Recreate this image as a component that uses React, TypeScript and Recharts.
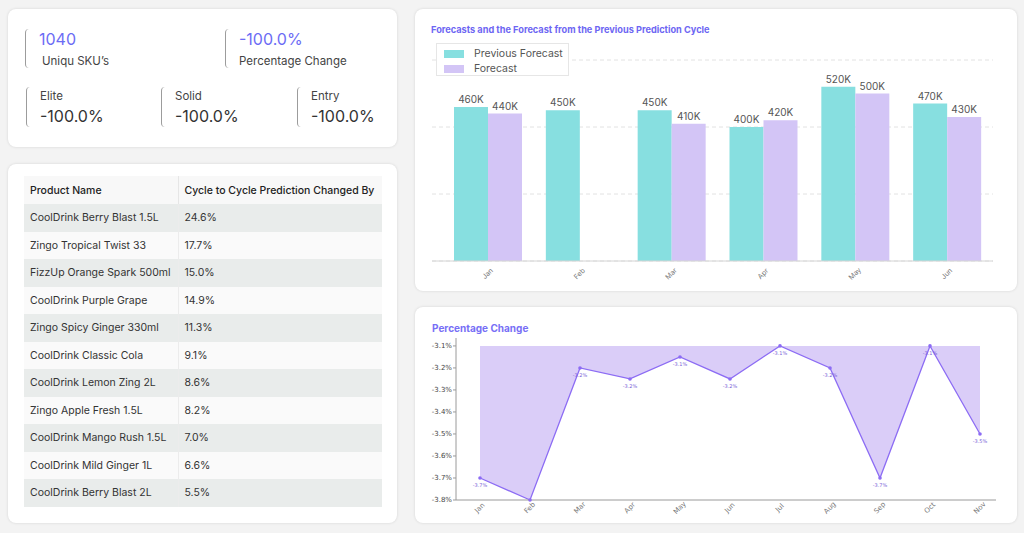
import {
  Area,
  AreaChart,
  Bar,
  BarChart,
  CartesianGrid,
  LabelList,
  Legend,
  XAxis,
  YAxis,
} from 'recharts';

const months = ['Jan', 'Feb', 'Mar', 'Apr', 'May', 'Jun'];
const previousForecast = [460000, 450000, 450000, 400000, 520000, 470000];
const forecast = [440000, null, 410000, 420000, 500000, 430000];

const changeMonths = ['Jan', 'Feb', 'Mar', 'Apr', 'May', 'Jun', 'Jul', 'Aug', 'Sep', 'Oct', 'Nov'];
const changeValues = [-3.7, -3.8, -3.2, -3.25, -3.15, -3.25, -3.1, -3.2, -3.7, -3.1, -3.5];
const changeLabels = ['-3.7%', '', '-3.2%', '-3.2%', '-3.1%', '-3.2%', '-3.1%', '-3.2%', '-3.7%', '-3.1%', '-3.5%'];
const changeTicks = [-3.8, -3.7, -3.6, -3.5, -3.4, -3.3, -3.2, -3.1];

const productNames = [
  'CoolDrink Berry Blast 1.5L',
  'Zingo Tropical Twist 33',
  'FizzUp Orange Spark 500ml',
  'CoolDrink Purple Grape',
  'Zingo Spicy Ginger 330ml',
  'CoolDrink Classic Cola',
  'CoolDrink Lemon Zing 2L',
  'Zingo Apple Fresh 1.5L',
  'CoolDrink Mango Rush 1.5L',
  'CoolDrink Mild Ginger 1L',
  'CoolDrink Berry Blast 2L',
];
const productChanges = ['24.6%', '17.7%', '15.0%', '14.9%', '11.3%', '9.1%', '8.6%', '8.2%', '7.0%', '6.6%', '5.5%'];

const TEAL = '#87dfe0';
const LAVENDER = '#d3c5f6';
const PURPLE = '#8c6cf4';
const TITLE = '#6d66f3';
const FONT = 'Inter, "Open Sans", sans-serif';

const card: React.CSSProperties = {
  position: 'absolute',
  background: '#fff',
  borderRadius: 8,
  boxShadow: '0 0 3px rgba(0,0,0,0.13)',
};

function Kpi({ left, top, height, value, label, valueColor, labelFirst, indent }: any) {
  const valueEl = (
    <div style={{ fontSize: 16, lineHeight: '20px', color: valueColor, whiteSpace: 'nowrap' }}>{value}</div>
  );
  const labelEl = (
    <div
      style={{
        fontSize: 11.5,
        lineHeight: labelFirst ? '18px' : '16px',
        color: '#444',
        marginTop: labelFirst ? 0 : 4,
        marginLeft: indent ? 3 : 0,
        whiteSpace: 'nowrap',
      }}
    >
      {label}
    </div>
  );
  return (
    <div
      style={{
        position: 'absolute',
        left,
        top,
        height,
        paddingLeft: 13,
        borderLeft: '1.5px solid #9c9c9c',
        borderRadius: 4,
        fontFamily: FONT,
      }}
    >
      {labelFirst ? (
        <>
          {labelEl}
          <div style={{ marginTop: 1 }}>{valueEl}</div>
        </>
      ) : (
        <>
          {valueEl}
          {labelEl}
        </>
      )}
    </div>
  );
}

function RotatedTick({ x, y, payload, dy, size, color, family }: any) {
  const ty = y + dy;
  return (
    <text
      x={x}
      y={ty}
      transform={`rotate(-45 ${x} ${ty})`}
      textAnchor="middle"
      dominantBaseline="middle"
      fontSize={size}
      fill={color}
      fontFamily={family}
    >
      {payload.value}
    </text>
  );
}

function BarLegend() {
  const items = [
    { name: 'Previous Forecast', color: TEAL },
    { name: 'Forecast', color: LAVENDER },
  ];
  return (
    <div
      style={{
        width: 133,
        height: 33,
        border: '1px solid #e6e6e6',
        background: '#fff',
        padding: '2px 0 0 7px',
        boxSizing: 'border-box',
        fontFamily: FONT,
      }}
    >
      {items.map((it) => (
        <div key={it.name} style={{ display: 'flex', alignItems: 'center', height: 15, whiteSpace: 'nowrap' }}>
          <span style={{ width: 20, height: 8, background: it.color, display: 'inline-block', flex: 'none' }} />
          <span style={{ marginLeft: 10, fontSize: 10.5, color: '#555' }}>{it.name}</span>
        </div>
      ))}
    </div>
  );
}

function ForecastChart() {
  const data = months.map((m, i) => ({
    month: m,
    previous: previousForecast[i],
    forecast: forecast[i],
  }));
  const fmt = (v: any) => (v == null ? '' : `${Math.round(Number(v) / 1000)}K`);
  return (
    <BarChart
      width={602}
      height={282}
      data={data}
      margin={{ top: 51, right: 24, left: 17, bottom: 0 }}
      barGap={0}
    >
      <CartesianGrid vertical={false} stroke="#e2e2e2" strokeDasharray="4 3" />
      <XAxis
        dataKey="month"
        padding={{ left: 10, right: 0 }}
        height={30}
        tickSize={0}
        tickMargin={0}
        axisLine={{ stroke: '#d4d4d4' }}
        tick={(p: any) => <RotatedTick {...p} dy={13} size={7} color="#777" family={FONT} />}
        interval={0}
      />
      <YAxis hide domain={[0, 600000]} ticks={[0, 200000, 400000, 600000]} />
      <Legend
        layout="vertical"
        align="center"
        verticalAlign="middle"
        content={() => <BarLegend />}
        wrapperStyle={{ left: 21, top: 34, width: 133, height: 33 }}
      />
      <Bar dataKey="previous" name="Previous Forecast" fill={TEAL} barSize={34} isAnimationActive={false}>
        <LabelList dataKey="previous" position="top" offset={4} formatter={fmt} fontSize={10} fill="#555" fontFamily={FONT} />
      </Bar>
      <Bar dataKey="forecast" name="Forecast" fill={LAVENDER} barSize={34} isAnimationActive={false}>
        <LabelList dataKey="forecast" position="top" offset={4} formatter={fmt} fontSize={10} fill="#555" fontFamily={FONT} />
      </Bar>
    </BarChart>
  );
}

function PointLabel({ x, y, value }: any) {
  if (!value) return null;
  return (
    <text x={x} y={y + 9} textAnchor="middle" fontSize={5} fill="#7b5fd8" fontFamily="DejaVu Sans">
      {value}
    </text>
  );
}

function ChangeChart() {
  const data = changeMonths.map((m, i) => ({
    month: m,
    value: changeValues[i],
    label: changeLabels[i],
  }));
  return (
    <AreaChart width={602} height={216} data={data} margin={{ top: 31, right: 21, left: 0, bottom: 0 }}>
      <XAxis
        dataKey="month"
        padding={{ left: 24, right: 16 }}
        height={23}
        tickSize={0}
        tickMargin={0}
        interval={0}
        axisLine={{ stroke: '#9a9a9a' }}
        tick={(p: any) => <RotatedTick {...p} dy={8} size={7} color="#777" family="DejaVu Sans" />}
      />
      <YAxis
        width={41}
        domain={[-3.8, -3.064]}
        ticks={changeTicks}
        tickSize={3}
        tickMargin={1}
        axisLine={{ stroke: '#9a9a9a' }}
        tickLine={{ stroke: '#9a9a9a' }}
        tick={{ fontSize: 7, fill: '#444', fontFamily: 'DejaVu Sans' }}
        tickFormatter={(v) => `${Number(v).toFixed(1)}%`}
      />
      <Area
        type="linear"
        dataKey="value"
        baseValue={-3.1}
        stroke={PURPLE}
        strokeWidth={1.3}
        fill="#dacdf8"
        fillOpacity={1}
        dot={{ r: 1.8, fill: PURPLE, stroke: PURPLE, strokeWidth: 0 }}
        activeDot={false}
        isAnimationActive={false}
      >
        <LabelList dataKey="label" content={(p: any) => <PointLabel {...p} />} />
      </Area>
    </AreaChart>
  );
}

export default function App() {
  return (
    <div
      style={{
        position: 'absolute',
        left: 0,
        top: 0,
        width: 1024,
        height: 533,
        background: '#f3f3f3',
        fontFamily: FONT,
        overflow: 'hidden',
      }}
    >
      {/* KPI card */}
      <div style={{ ...card, left: 8, top: 9, width: 389, height: 138 }} />
      <Kpi left={25} top={29} height={39} value="1040" label="Uniqu SKU’s" valueColor="#6c6cf5" indent />
      <Kpi left={225} top={29} height={39} value="-100.0%" label="Percentage Change" valueColor="#6c6cf5" />
      <Kpi left={26} top={87} height={40} value="-100.0%" label="Elite" valueColor="#333" labelFirst />
      <Kpi left={161} top={87} height={40} value="-100.0%" label="Solid" valueColor="#333" labelFirst />
      <Kpi left={297} top={87} height={40} value="-100.0%" label="Entry" valueColor="#333" labelFirst />

      {/* table card */}
      <div style={{ ...card, left: 8, top: 164, width: 389, height: 359 }} />
      <table
        style={{
          position: 'absolute',
          left: 24,
          top: 176,
          width: 358,
          borderCollapse: 'collapse',
          tableLayout: 'fixed',
          fontFamily: FONT,
          fontSize: 10.5,
          color: '#333',
        }}
      >
        <colgroup>
          <col style={{ width: 154 }} />
          <col style={{ width: 204 }} />
        </colgroup>
        <thead>
          <tr style={{ height: 28, background: '#f8f8f8' }}>
            <th style={{ textAlign: 'left', padding: '0 0 0 6px', fontWeight: 500, fontSize: 10.5, color: '#222', borderRight: '1px solid #e6e6e6', whiteSpace: 'nowrap' }}>
              Product Name
            </th>
            <th style={{ textAlign: 'left', padding: '0 0 0 6px', fontWeight: 500, fontSize: 10.5, color: '#222', whiteSpace: 'nowrap' }}>
              Cycle to Cycle Prediction Changed By
            </th>
          </tr>
        </thead>
        <tbody>
          {productNames.map((name, i) => (
            <tr key={i} style={{ height: 27.5, background: i % 2 === 0 ? '#e9eceb' : '#fafafa' }}>
              <td style={{ padding: '0 0 0 6px', whiteSpace: 'nowrap', borderRight: '1px solid #ececec' }}>{name}</td>
              <td style={{ padding: '0 0 0 6px' }}>{productChanges[i]}</td>
            </tr>
          ))}
        </tbody>
      </table>

      {/* bar chart card */}
      <div style={{ ...card, left: 415, top: 9, width: 602, height: 282 }}>
        <div style={{ position: 'absolute', left: 16, top: 15, fontSize: 9.2, fontWeight: 700, color: TITLE, whiteSpace: 'nowrap' }}>
          Forecasts and the Forecast from the Previous Prediction Cycle
        </div>
        <div style={{ position: 'absolute', left: 0, top: 0 }}>
          <ForecastChart />
        </div>
      </div>

      {/* line chart card */}
      <div style={{ ...card, left: 415, top: 307, width: 602, height: 216 }}>
        <div style={{ position: 'absolute', left: 17, top: 15, fontSize: 10, fontWeight: 700, color: '#776ff6', whiteSpace: 'nowrap' }}>
          Percentage Change
        </div>
        <div style={{ position: 'absolute', left: 0, top: 0 }}>
          <ChangeChart />
        </div>
      </div>
    </div>
  );
}
